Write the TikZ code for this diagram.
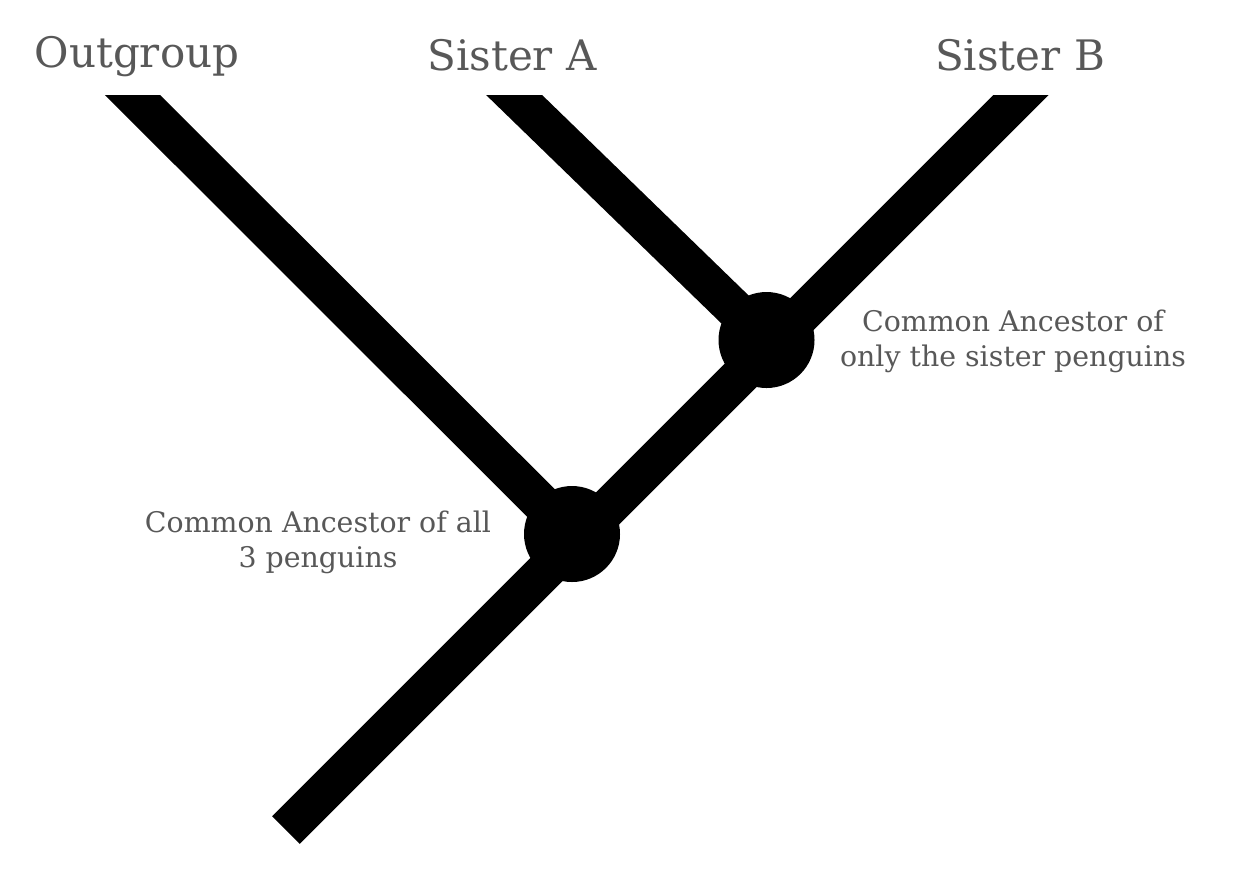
\documentclass[tikz,border=0pt]{standalone}
\usepackage{fontspec}
\setmainfont{DejaVu Serif}
\definecolor{txtgray}{RGB}{88,88,88}
\begin{document}
\begin{tikzpicture}[x=0.5pt,y=-0.5pt,
  branch/.style={line width=19.5pt,line cap=butt},
  anc/.style={circle,fill=black,minimum size=48pt,inner sep=0pt},
  taxon/.style={text=txtgray,font=\fontsize{21}{25}\selectfont,anchor=base},
  note/.style={text=txtgray,font=\fontsize{14.2}{17.5}\selectfont,align=center,anchor=base}]
\useasboundingbox (0,0) rectangle (1245,869);
\node[anc] (ancall) at (572,534) {};
\node[anc] (ancsis) at (766.5,340) {};
\coordinate (root) at (286,830);
\coordinate (outtop) at (112.5,75);
\coordinate (satop) at (493.5,75);
\coordinate (sbtop) at (1041,75);
\begin{scope}
\clip (0,95) rectangle (1245,869);
\draw[branch] (outtop)--(ancall.center);
\draw[branch] (satop)--(ancsis.center);
\draw[branch] (sbtop)--(root);
\end{scope}
\node[taxon] (outlbl) at (137,67) {Outgroup};
\node[taxon] (salbl) at (512,70) {Sister A};
\node[taxon] (sblbl) at (1020,70) {Sister B};
\node[note] (sislbl) at (1013,366) {Common Ancestor of\\only the sister penguins};
\node[note] (alllbl) at (318,567) {Common Ancestor of all\\3 penguins};
\end{tikzpicture}
\end{document}
